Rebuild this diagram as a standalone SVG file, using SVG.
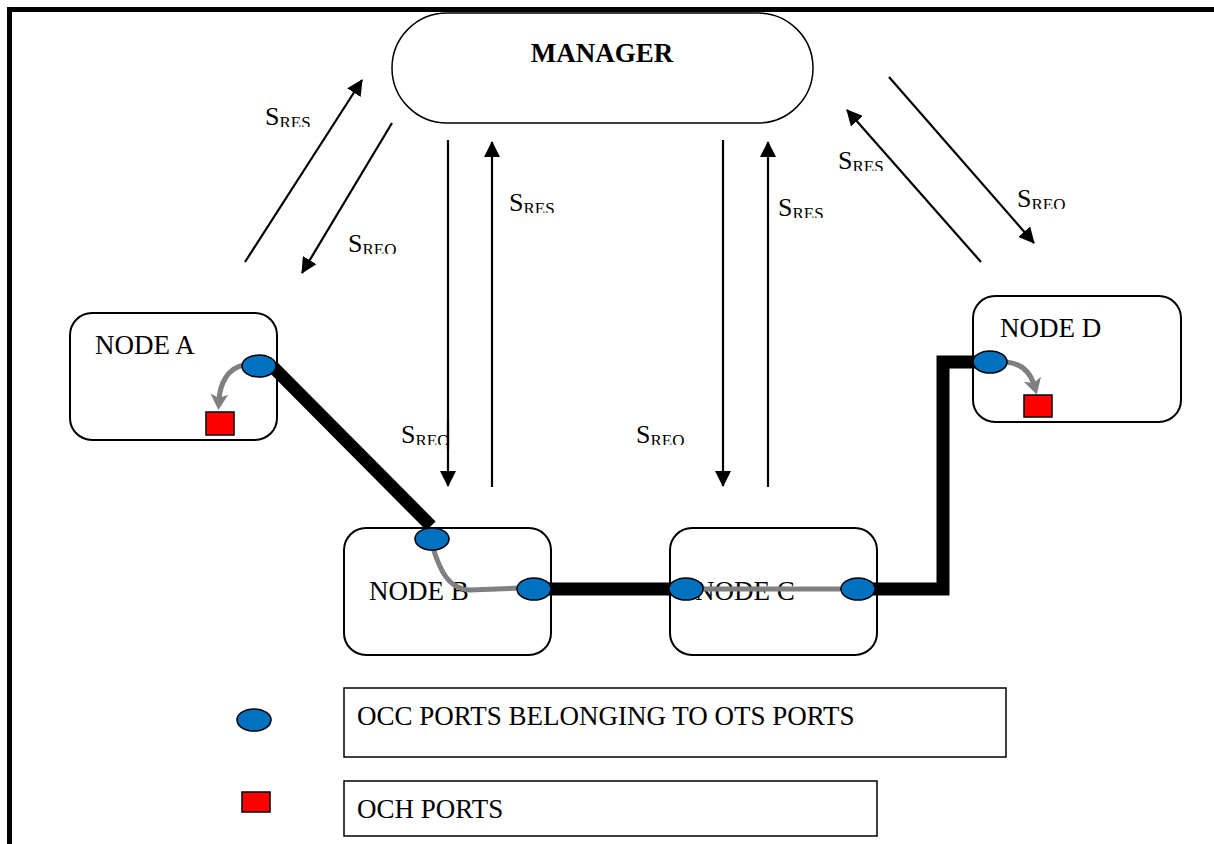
<svg xmlns="http://www.w3.org/2000/svg" width="1214" height="844" viewBox="0 0 1214 844">
<style>
.box{fill:#fff;stroke:#000;stroke-width:2}
.lbl{font-family:"Liberation Serif","Times New Roman",serif;font-size:27px;fill:#000}
.mgr{font-family:"Liberation Serif","Times New Roman",serif;font-size:27px;font-weight:bold;fill:#000}
.s{font-family:"Liberation Serif","Times New Roman",serif;font-size:26px;fill:#000}
.sub{font-size:17px}
.sig{fill:none;stroke:#000;stroke-width:2.2;marker-end:url(#ah)}
.link{fill:none;stroke:#000;stroke-width:13}
.gray{fill:none;stroke:#808080;stroke-width:5}
.port{fill:#0070C0;stroke:#000;stroke-width:1.5}
.och{fill:#FF0000;stroke:#000;stroke-width:1.5}
.leg{fill:#fff;stroke:#000;stroke-width:1.5}
</style>
<defs>
<marker id="ah" viewBox="0 0 16 16" markerWidth="16" markerHeight="16" markerUnits="userSpaceOnUse" refX="15" refY="8" orient="auto">
<path d="M0,0 L16,8 L0,16 z" fill="#000"/>
</marker>
<marker id="gh" viewBox="0 0 16 18" markerWidth="16" markerHeight="18" markerUnits="userSpaceOnUse" refX="6" refY="9" orient="auto">
<path d="M0,0 L16,9 L0,18 L4,9 z" fill="#808080"/>
</marker>
<clipPath id="sclip">
<rect x="260" y="95" width="60" height="32"/>
<rect x="343" y="222" width="62" height="32"/>
<rect x="504" y="181" width="60" height="32"/>
<rect x="773" y="186" width="60" height="32"/>
<rect x="396" y="413" width="60" height="32"/>
<rect x="631" y="413" width="60" height="32"/>
<rect x="833" y="139" width="60" height="32"/>
<rect x="1012" y="177" width="62" height="32"/>
</clipPath>
</defs>
<rect width="1214" height="844" fill="#fff"/>
<path d="M9.5,844 V9.5 H1214" fill="none" stroke="#000" stroke-width="5"/>

<g id="manager">
<rect x="392" y="13" width="421" height="110" rx="55" class="box" style="stroke-width:1.5"/>
<text x="602" y="62" text-anchor="middle" class="mgr">MANAGER</text>
</g>

<g id="node-a">
<rect x="70" y="313" width="207" height="127" rx="22" class="box"/>
<text x="95" y="354" class="lbl">NODE A</text>
</g>
<g id="node-b">
<rect x="344" y="528" width="207" height="127" rx="22" class="box"/>
<text x="369" y="600" class="lbl">NODE B</text>
</g>
<g id="node-c">
<rect x="670" y="528" width="207" height="127" rx="22" class="box"/>
<text x="695" y="600" class="lbl">NODE C</text>
</g>
<g id="node-d">
<rect x="973" y="296" width="208" height="126" rx="22" class="box"/>
<text x="1000" y="337" class="lbl">NODE D</text>
</g>

<g id="legend-occ">
<rect x="344" y="688" width="662" height="69" class="leg"/>
<text x="357" y="725" class="lbl">OCC PORTS BELONGING TO OTS PORTS</text>
<ellipse cx="254" cy="720" rx="17" ry="11" class="port"/>
</g>
<g id="legend-och">
<rect x="344" y="781" width="533" height="55" class="leg"/>
<text x="357" y="818" class="lbl">OCH PORTS</text>
<rect x="242" y="792" width="28" height="20" class="och"/>
</g>

<g id="connectors">
<line x1="245" y1="262" x2="362" y2="80" class="sig"/>
<line x1="392" y1="123" x2="302" y2="273" class="sig"/>
<line x1="448" y1="140" x2="448" y2="486" class="sig"/>
<line x1="492" y1="487" x2="492" y2="142" class="sig"/>
<line x1="723" y1="140" x2="723" y2="486" class="sig"/>
<line x1="768" y1="487" x2="768" y2="142" class="sig"/>
<line x1="981" y1="262" x2="847" y2="110" class="sig"/>
<line x1="889" y1="77" x2="1034" y2="243" class="sig"/>
<line x1="272" y1="366" x2="431" y2="526" class="link"/>
<line x1="534" y1="589" x2="686" y2="589" class="link"/>
<path d="M858,589 H943 V362 H990" class="link" stroke-linejoin="miter"/>
<path d="M244,365 C228,368 220,383 219,400" class="gray" marker-end="url(#gh)"/>
<path d="M433,548 C440,570 448,589 470,590 L520,588" class="gray"/>
<line x1="686" y1="589" x2="858" y2="589" class="gray"/>
<path d="M1005,362 C1020,363 1030,371 1034,385" class="gray" marker-end="url(#gh)"/>
</g>

<g id="labels" clip-path="url(#sclip)">
<text x="265" y="125" class="s">S<tspan class="sub" dy="3">RES</tspan></text>
<text x="348" y="252" class="s">S<tspan class="sub" dy="3">REQ</tspan></text>
<text x="509" y="211" class="s">S<tspan class="sub" dy="3">RES</tspan></text>
<text x="778" y="216" class="s">S<tspan class="sub" dy="3">RES</tspan></text>
<text x="401" y="443" class="s">S<tspan class="sub" dy="3">REQ</tspan></text>
<text x="636" y="443" class="s">S<tspan class="sub" dy="3">REQ</tspan></text>
<text x="838" y="169" class="s">S<tspan class="sub" dy="3">RES</tspan></text>
<text x="1017" y="207" class="s">S<tspan class="sub" dy="3">REQ</tspan></text>
</g>
<line x1="448" y1="420" x2="448" y2="450" stroke="#000" stroke-width="2.2"/>

<g id="port-a"><ellipse cx="259" cy="366" rx="17" ry="11" class="port"/></g>
<g id="och-a"><rect x="206" y="412" width="28" height="23" class="och"/></g>
<g id="port-b1"><ellipse cx="432" cy="539" rx="17" ry="11" class="port"/></g>
<g id="port-b2"><ellipse cx="534" cy="589" rx="17" ry="11" class="port"/></g>
<g id="port-c1"><ellipse cx="686" cy="589" rx="17" ry="11" class="port"/></g>
<g id="port-c2"><ellipse cx="858" cy="589" rx="17" ry="11" class="port"/></g>
<g id="port-d"><ellipse cx="990" cy="362" rx="17" ry="11" class="port"/></g>
<g id="och-d"><rect x="1024" y="395" width="28" height="22" class="och"/></g>
</svg>
